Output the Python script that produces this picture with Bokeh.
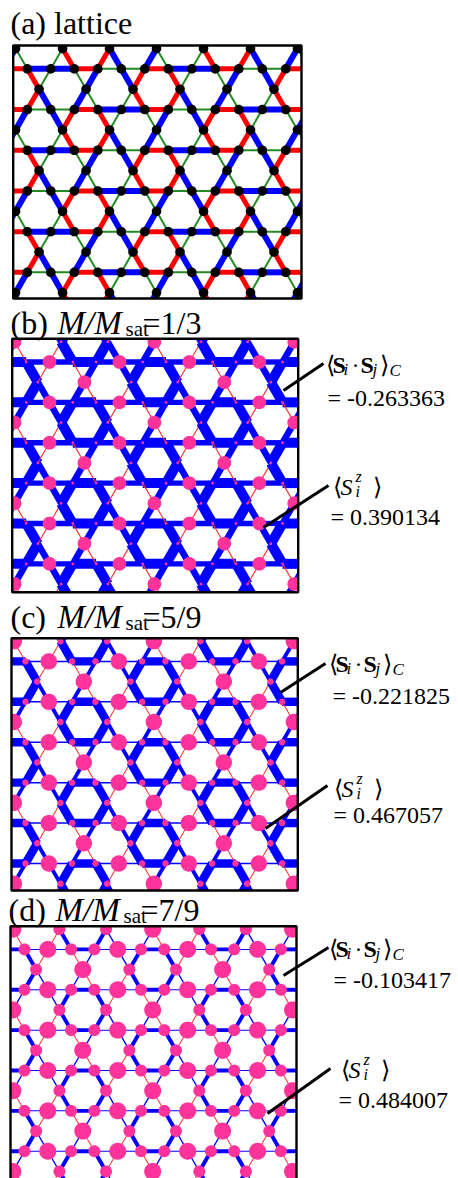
import numpy as np
from bokeh.plotting import figure
from bokeh.models import Range1d
from bokeh.embed import file_html
from bokeh.resources import INLINE
from bokeh.core.properties import value

# ------------------------------------------------------------------ data
# (a) bond colours (B blue / R red / G green).
# one string per horizontal row h (period 2 in h), 6 bonds per string (period 6 in m)
A_HORIZ = ["BBRGGR", "GGRBBR"]     # bond between row sites m and m+1
A_UP = ["GGRRBB", "RBBGGR"]        # bond from row site m to the mid-row site above
A_DOWN = ["RGGBBR", "BBRRGG"]      # bond from row site m to the mid-row site below

# (b)-(d): nearest-neighbour correlations and site magnetisations
labels = ["(b)", "(c)", "(d)"]
fractions = ["1/3", "5/9", "7/9"]
corr_hex = [-0.263363, -0.221825, -0.103417]   # hexagon bonds (red in (a))
corr_row = [-0.14, -0.04, -0.025]              # other horizontal bonds
corr_diag_B = [-0.17, -0.10, -0.035]           # other slanted bonds, blue in (a)
corr_diag_G = [0.03, 0.02, 0.015]              # other slanted bonds, green in (a)
sz_P = [0.390134, 0.467057, 0.484007]          # sites off the hexagons
sz_h = [0.055, 0.183, 0.341]                   # hexagon sites

# ------------------------------------------------------------------ layout
FRAMES = {"a": (12.7, 45.0, 301.0, 298.0),
          "b": (11.7, 338.3, 297.7, 591.7),
          "c": (11.0, 637.7, 297.3, 890.0),
          "d": (10.0, 925.7, 296.0, 1190.0)}
U0 = 0.1
SQ = np.sqrt(3) / 2
SERIF = value("Liberation Serif")
TY = -9   # text baseline correction

p = figure(width=458, height=1178, x_range=Range1d(0, 458), y_range=Range1d(1178, 0),
           output_backend="svg", toolbar_location=None, min_border=0)
p.axis.visible = False
p.grid.visible = False
p.outline_line_color = None
p.background_fill_color = "white"
p.border_fill_color = "white"


def clip(poly, x0, y0, x1, y1):
    def edge(pts, inside, inter):
        out = []
        for i in range(len(pts)):
            cur, prev = pts[i], pts[i - 1]
            if inside(cur):
                if not inside(prev):
                    out.append(inter(prev, cur))
                out.append(cur)
            elif inside(prev):
                out.append(inter(prev, cur))
        return out

    def ix(xc):
        return lambda a, b: (xc, a[1] + (b[1] - a[1]) * (xc - a[0]) / (b[0] - a[0]))

    def iy(yc):
        return lambda a, b: (a[0] + (b[0] - a[0]) * (yc - a[1]) / (b[1] - a[1]), yc)

    pts = list(poly)
    for inside, inter in [(lambda q: q[0] >= x0, ix(x0)), (lambda q: q[0] <= x1, ix(x1)),
                          (lambda q: q[1] >= y0, iy(y0)), (lambda q: q[1] <= y1, iy(y1))]:
        if not pts:
            break
        pts = edge(pts, inside, inter)
    return pts


def geom(key):
    fl, ft, fr, fb = FRAMES[key]
    return fl, ft, (fr - fl) / 12.27


def hpos(key, h, m):
    fl, ft, b = geom(key)
    return fl + b * (U0 + 0.5 + m), ft + 3 + b * SQ * (2 * h + 1)


def mpos(key, k, u):
    fl, ft, b = geom(key)
    return fl + b * u, ft + 3 + b * SQ * (2 * k)


def mid_u(m, k):
    return U0 + m if (m - k) % 2 == 0 else U0 + m + 1


def lattice(key):
    """bonds (p0, p1, colour class, horizontal?, site keys) and sites (pos, key)"""
    bl, sites = [], []
    for h in range(-1, 7):
        for m in range(-1, 14):
            hk = ("H", h % 2, m % 6)
            sites.append((hpos(key, h, m), hk))
            bl.append((hpos(key, h, m), hpos(key, h, m + 1), A_HORIZ[h % 2][m % 6], True,
                       hk, ("H", h % 2, (m + 1) % 6)))
            for kk, table in ((h, A_UP), (h + 1, A_DOWN)):
                u = mid_u(m, kk)
                ck = ("C", kk % 2, int(round(u - U0)) % 6)
                bl.append((hpos(key, h, m), mpos(key, kk, u), table[h % 2][m % 6], False, hk, ck))
    for k in range(-1, 8):
        for n in range(-1, 8):
            u = U0 + (k % 2) + 2 * n
            sites.append((mpos(key, k, u), ("C", k % 2, int(round(u - U0)) % 6)))
    return bl, sites


def bond_poly(p0, p1, w):
    a, b = np.array(p0), np.array(p1)
    d = (b - a) / np.hypot(*(b - a))
    nrm = np.array([-d[1], d[0]]) * w / 2
    return [tuple(a + nrm), tuple(b + nrm), tuple(b - nrm), tuple(a - nrm)]


def circle_poly(c, r, n=36):
    t = np.linspace(0, 2 * np.pi, n, endpoint=False)
    return [(c[0] + r * np.cos(a), c[1] + r * np.sin(a)) for a in t]


def add_polys(key, polys, colors):
    fl, ft, fr, fb = FRAMES[key]
    xs, ys, cs = [], [], []
    for poly, c in zip(polys, colors):
        q = clip(poly, fl, ft, fr, fb)
        if len(q) >= 3:
            xs.append([v[0] for v in q]); ys.append([v[1] for v in q]); cs.append(c)
    p.patches(xs, ys, fill_color=cs, line_color=None)


# sites touching a red (hexagon) bond of (a)
_bl, _ = lattice("a")
hex_sites = set()
for (_p0, _p1, c, _hz, sa, sb) in _bl:
    if c == "R":
        hex_sites.add(sa); hex_sites.add(sb)

# ---------------- panel (a)
col = {"B": "#0000ff", "R": "#ff0000", "G": "#228b22"}
wid = {"B": 6.0, "R": 5.0, "G": 2.0}
bl, sites = lattice("a")
add_polys("a", [bond_poly(a, b, wid[c]) for (a, b, c, _, _, _) in bl],
          [col[c] for (_, _, c, _, _, _) in bl])
add_polys("a", [circle_poly(s, 4.8) for (s, _) in sites], ["black"] * len(sites))

# ---------------- panels (b)-(d)
for i, key in enumerate(["b", "c", "d"]):
    bl, sites = lattice(key)
    polys, cols = [], []
    for (a, b, c, horiz, _, _) in bl:
        if c == "R":
            v = corr_hex[i]
        elif horiz:
            v = corr_row[i]
        elif c == "B":
            v = corr_diag_B[i]
        else:
            v = corr_diag_G[i]
        polys.append(bond_poly(a, b, max(1.0, 38 * abs(v))))
        cols.append("#0000ff" if v < 0 else "#ff3030")
    add_polys(key, polys, cols)
    circ = []
    for (s, sk) in sites:
        sz = sz_h[i] if sk in hex_sites else sz_P[i]
        circ.append(circle_poly(s, max(1.4, 17.5 * sz)))
    add_polys(key, circ, ["#ff3399"] * len(circ))

# frames
fk = ["a", "b", "c", "d"]
p.quad(left=[FRAMES[k][0] for k in fk], right=[FRAMES[k][2] for k in fk],
       top=[FRAMES[k][1] for k in fk], bottom=[FRAMES[k][3] for k in fk],
       fill_alpha=0, line_color="black", line_width=2.4)

# ---------------- titles
kw = dict(text_font=SERIF, text_baseline="alphabetic", text_color="black")
p.text([10], [31.5 + TY], text=["(a) lattice"], text_font_size="32px", **kw)
title_base = [331, 625, 918]
title_x = [10, 10, 8]
for i in range(3):
    yb, x0 = title_base[i] + TY, title_x[i]
    p.text([x0], [yb], text=[labels[i]], text_font_size="32px", **kw)
    p.text([x0 + 47], [yb], text=["M/M"], text_font_size="33px", text_font_style="italic", **kw)
    p.text([x0 + 115], [yb + 6], text=["sat"], text_font_size="21px", **kw)
    p.text([x0 + 132], [yb], text=["=" + fractions[i]], text_font_size="32px", **kw)

# ---------------- annotations
ann_ss = [(325, 373), (328, 672), (328, 957)]
ann_ssv = [(327, 406), (332, 704), (333, 988)]
ann_sz = [(332, 495), (333, 797), (340, 1078)]
ann_szv = [(330, 525), (333, 823), (338, 1108)]
for i in range(3):
    x0, yb = ann_ss[i]
    yb += TY
    p.text([x0, x0 + 54], [yb, yb], text=["\u27e8", "\u27e9"], text_font_size="24px", **kw)
    p.text([x0 + 7, x0 + 35], [yb, yb], text=["S", "S"], text_font_size="24px",
           text_font_style="bold", **kw)
    p.text([x0 + 26], [yb], text=["\u00b7"], text_font_size="24px", **kw)
    p.text([x0 + 18, x0 + 47, x0 + 64], [yb + 5, yb + 5, yb + 6], text=["i", "j", "C"],
           text_font_size="17px", text_font_style="italic", **kw)
    x1, y1 = ann_ssv[i]
    p.text([x1], [y1 + TY], text=["= %.6f" % corr_hex[i]], text_font_size="24px", **kw)
    x2, y2 = ann_sz[i]
    y2 += TY
    p.text([x2, x2 + 40], [y2, y2], text=["\u27e8", "\u27e9"], text_font_size="24px", **kw)
    p.text([x2 + 8], [y2], text=["S"], text_font_size="24px", text_font_style="italic", **kw)
    p.text([x2 + 23, x2 + 23], [y2 - 10, y2 + 5], text=["z", "i"], text_font_size="16px",
           text_font_style="italic", **kw)
    x3, y3 = ann_szv[i]
    p.text([x3], [y3 + TY], text=["= %.6f" % sz_P[i]], text_font_size="24px", **kw)

lead = [((283, 390), (323, 363)), ((263, 527), (328, 485)),
        ((280, 692), (325, 663)), ((265, 828), (327, 785)),
        ((283, 975), (328, 947)), ((267, 1113), (330, 1068))]
p.segment([a[0][0] for a in lead], [a[0][1] for a in lead],
          [a[1][0] for a in lead], [a[1][1] for a in lead], line_color="black", line_width=3)

open("out.html", "w").write(file_html(p, INLINE))
